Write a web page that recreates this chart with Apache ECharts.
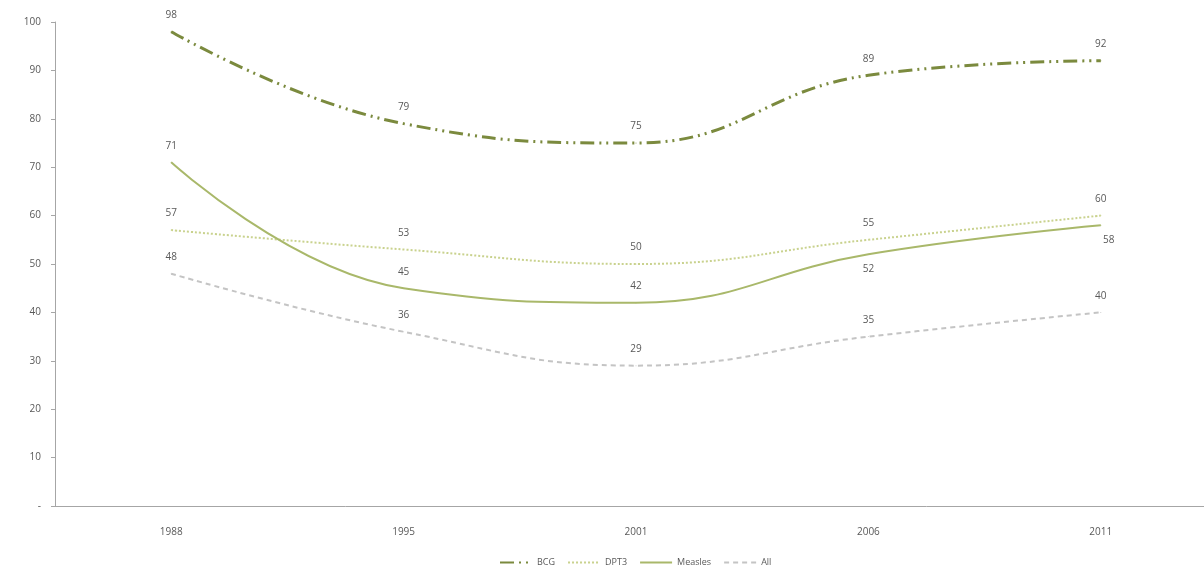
<!DOCTYPE html>
<html>
<head>
<meta charset="utf-8">
<script src="https://cdn.jsdelivr.net/npm/echarts@6/dist/echarts.min.js"></script>
<style>html,body{margin:0;padding:0;background:#fff;overflow:hidden}#c{width:1217px;height:580px}</style>
</head>
<body>
<div id="c"></div>
<script>
const years = ['1988', '1995', '2001', '2006', '2011'];
const bcg = [98, 79, 75, 89, 92];
const dpt3 = [57, 53, 50, 55, 60];
const measles = [71, 45, 42, 52, 58];
const all = [48, 36, 29, 35, 40];
const seriesNames = ['BCG', 'DPT3', 'Measles', 'All'];
const measlesBelow = [false, false, false, true, true];

const chart = echarts.init(document.getElementById('c'));
const font = '"Open Sans", "DejaVu Sans", sans-serif';
const lbl = {show: true, position: 'top', distance: 11, color: '#595959', fontSize: 10, fontFamily: font};

function mk(name, vals, color, width, type, below) {
  return {
    name, type: 'line', smooth: 0.45, symbol: 'circle', symbolSize: 1, showSymbol: true,
    data: vals.map((v, i) => {
      if (below && below[i]) {
        return {value: v, label: {position: 'bottom', distance: 9, offset: [i === 4 ? 8 : 0, 0]}};
      }
      return v;
    }),
    lineStyle: {color, width, type},
    itemStyle: {color},
    label: lbl,
    emphasis: {disabled: true}
  };
}

chart.setOption({
  animation: false,
  grid: {left: 55, right: 0, top: 22, bottom: 74},
  legend: {
    bottom: 8, left: 494, itemWidth: 32, itemHeight: 8, itemGap: 12,
    textStyle: {color: '#595959', fontSize: 9, fontFamily: font},
    itemStyle: {opacity: 0},
    data: seriesNames
  },
  xAxis: {
    type: 'category', data: years,
    axisLine: {lineStyle: {color: '#a6a6a6', width: 1}},
    axisTick: {length: 4, lineStyle: {color: '#a6a6a6'}},
    axisLabel: {color: '#595959', fontSize: 10, fontFamily: font, margin: 21}
  },
  yAxis: {
    type: 'value', min: 0, max: 100, interval: 10,
    splitLine: {show: false},
    axisLine: {show: true, lineStyle: {color: '#a6a6a6', width: 1}},
    axisTick: {show: true, length: 4, lineStyle: {color: '#a6a6a6'}},
    axisLabel: {color: '#595959', fontSize: 10, fontFamily: font, margin: 14,
      formatter: v => v === 0 ? '-' : String(v)}
  },
  series: [
    mk('BCG', bcg, '#7b8a3e', 3, [14, 5, 2, 5, 2, 5]),
    mk('DPT3', dpt3, '#c9d28e', 2, [2, 2]),
    mk('Measles', measles, '#a9b86a', 2, 'solid', measlesBelow),
    mk('All', all, '#c4c4c4', 2, [5, 4])
  ]
});
</script>
</body>
</html>
